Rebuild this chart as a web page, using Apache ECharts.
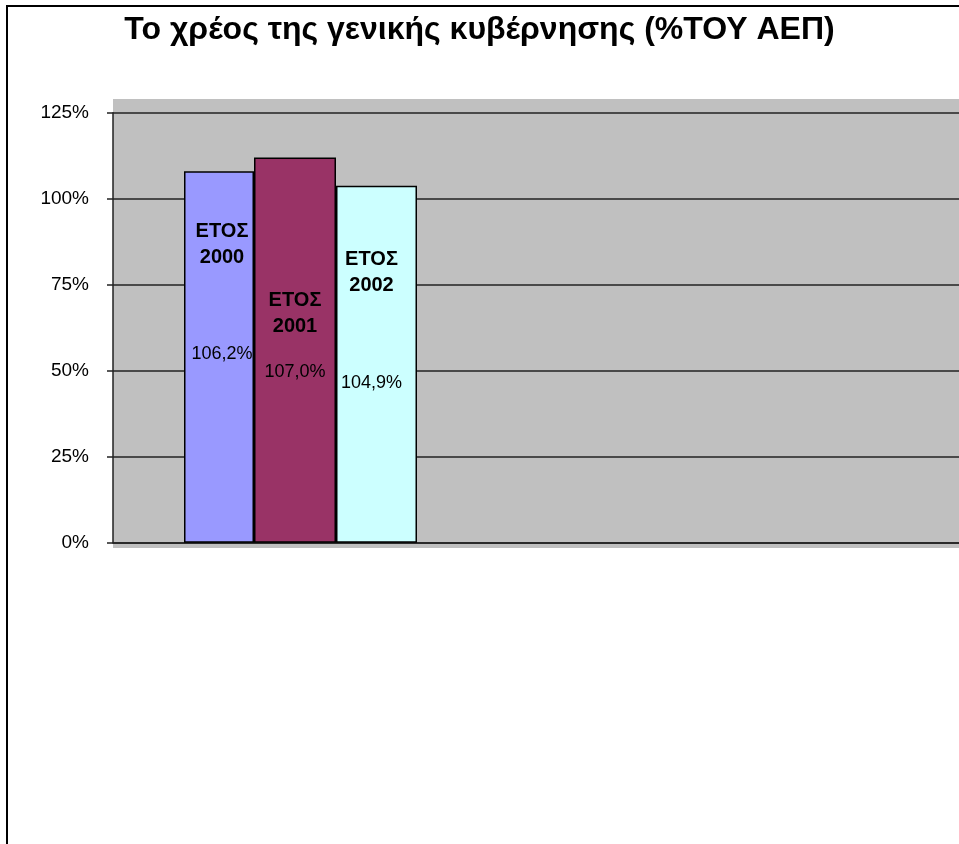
<!DOCTYPE html>
<html><head><meta charset="utf-8">
<script src="https://cdn.jsdelivr.net/npm/echarts@6/dist/echarts.min.js"></script>
<style>html,body{margin:0;padding:0;background:#fff}#c{width:959px;height:844px}</style>
</head><body><div id="c"></div>
<script>
const chartTitle = 'Το χρέος της γενικής κυβέρνησης (%ΤΟΥ ΑΕΠ)';
const category = ['Χρέος'];
const seriesYears = ['2000', '2001', '2002'];
const seriesPrefix = 'ΕΤΟΣ';
const barHeights = [108.0, 112.0, 103.8];      // bar heights as drawn (%)
const valueLabels = ['106,2%', '107,0%', '104,9%']; // printed labels
const yMin = 0, yMax = 125, yStep = 25;

const FONT = '"Liberation Sans", Arial, sans-serif';
const colors = ['#9999FF', '#993366', '#CCFFFF'];
const barWidths = [70, 82, 81];
const labelDist = [47, 130, 61];
const valueLineH = [168, 65, 169];
const labelOffset = [[3, 0], [0, 0], [-5, 0]];

const chart = echarts.init(document.getElementById('c'), null, {renderer: 'canvas'});

const gridTop = 112.7, gridBottom = 844 - 542.7;

const series = seriesYears.map((yr, i) => ({
  name: seriesPrefix + ' ' + yr,
  type: 'bar',
  xAxisIndex: 1,
  yAxisIndex: 1,
  barWidth: barWidths[i],
  barGap: '0%',
  data: [barHeights[i]],
  itemStyle: {color: colors[i], borderColor: '#000', borderWidth: 1.5},
  label: {
    show: true,
    position: 'insideTop',
    distance: labelDist[i],
    offset: labelOffset[i],
    formatter: () => '{b|' + seriesPrefix + '}\n{b|' + yr + '}\n{v|' + valueLabels[i] + '}',
    rich: {
      b: {fontFamily: FONT, fontWeight: 'bold', fontSize: 20, lineHeight: 26, color: '#000', align: 'center'},
      v: {fontFamily: FONT, fontSize: 18, lineHeight: valueLineH[i], color: '#000', align: 'center'}
    }
  },
  emphasis: {disabled: true},
  silent: true
}));

chart.setOption({
  animation: false,
  backgroundColor: '#fff',
  title: {
    text: chartTitle,
    left: 'center',
    top: 14,
    padding: 0,
    textStyle: {fontFamily: FONT, fontWeight: 'bold', fontSize: 32, color: '#000'}
  },
  graphic: [
    {type: 'rect', z: -100, silent: true, shape: {x: 113, y: 99, width: 850, height: 449}, style: {fill: '#C0C0C0'}},
    {type: 'rect', z: 100, silent: true, shape: {x: 7, y: 6, width: 1000, height: 900}, style: {fill: 'none', stroke: '#000', lineWidth: 2}}
  ],
  grid: [
    {left: 113, right: 0, top: gridTop, bottom: gridBottom, containLabel: false},
    {left: 113, width: 375, top: gridTop, bottom: gridBottom, containLabel: false}
  ],
  xAxis: [
    {type: 'category', gridIndex: 0, data: category, axisLabel: {show: false}, axisTick: {show: false},
     axisLine: {show: true, lineStyle: {color: '#222', width: 1.5}}, splitLine: {show: false}},
    {type: 'category', gridIndex: 1, data: category, show: false}
  ],
  yAxis: [
    {type: 'value', gridIndex: 0, min: yMin, max: yMax, interval: yStep,
     axisLine: {show: true, lineStyle: {color: '#222', width: 1.5}},
     axisTick: {show: true, length: 6, lineStyle: {color: '#222', width: 1.5}},
     axisLabel: {fontFamily: FONT, fontSize: 19, color: '#000', margin: 24, formatter: v => v + '%'},
     splitLine: {show: true, lineStyle: {color: '#222', width: 1.5}}},
    {type: 'value', gridIndex: 1, min: yMin, max: yMax, interval: yStep, show: false, splitLine: {show: false}}
  ],
  series: series
});
</script>
</body></html>
